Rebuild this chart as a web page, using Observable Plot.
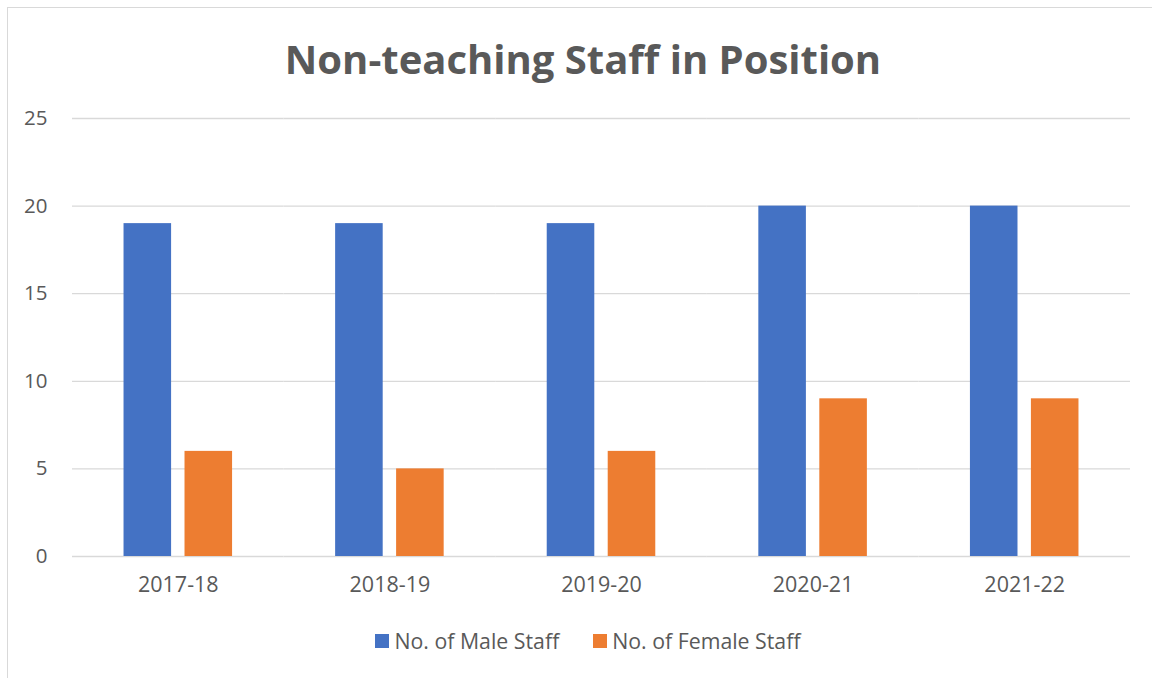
<!DOCTYPE html>
<html>
<head>
<meta charset="utf-8">
<script src="https://cdn.jsdelivr.net/npm/d3@7"></script>
<script src="https://cdn.jsdelivr.net/npm/@observablehq/plot@0.6"></script>
<style>
  html, body { margin: 0; padding: 0; background: #fff; width: 1152px; height: 678px; overflow: hidden; }
  #frame { position: absolute; left: 7px; top: 7px; width: 1160px; height: 700px; border: 1px solid #d9d9d9; box-sizing: border-box; }
  #title { position: absolute; left: 0; width: 1166px; top: 29px; text-align: center; font-family: "Open Sans", sans-serif; font-weight: 700; font-size: 40px; color: #595959; line-height: 60px; white-space: nowrap; }
  #chart { position: absolute; left: 0; top: 90px; }
  #legend { position: absolute; left: 12px; width: 1152px; top: 626px; display: flex; justify-content: center; gap: 34px; font-family: "Open Sans", sans-serif; font-size: 21.3px; color: #595959; line-height: 30px; }
  .item { display: flex; align-items: center; gap: 5px; }
  .sw { width: 14px; height: 14px; display: inline-block; }
</style>
</head>
<body>
<div id="frame"></div>
<div id="title">Non-teaching Staff in Position</div>
<div id="chart"></div>
<div id="legend"></div>
<script>
const years = ["2017-18", "2018-19", "2019-20", "2020-21", "2021-22"];
const seriesNames = ["No. of Male Staff", "No. of Female Staff"];
const maleStaff = [19, 19, 19, 20, 20];
const femaleStaff = [6, 5, 6, 9, 9];
const yTicks = [0, 5, 10, 15, 20, 25];
const colors = ["#4472c4", "#ed7d31"];

const data = [];
years.forEach((yr, i) => {
  data.push({year: yr, series: seriesNames[0], value: maleStaff[i]});
  data.push({year: yr, series: seriesNames[1], value: femaleStaff[i]});
});

const chart = Plot.plot({
  width: 1152,
  height: 520,
  marginTop: 28,
  marginBottom: 54,
  marginLeft: 72,
  marginRight: 22,
  style: {fontFamily: "Open Sans, sans-serif", fontSize: "18px", color: "#595959", background: "transparent"},
  fx: {domain: years, paddingInner: 0, paddingOuter: 0, round: false, label: null},
  x: {domain: seriesNames, paddingInner: 0.22, paddingOuter: 0.845, align: 0.5, round: false, axis: null},
  y: {domain: [0, 25], label: null},
  color: {domain: seriesNames, range: colors},
  marks: [
    Plot.ruleY(yTicks, {stroke: "#d9d9d9", strokeWidth: 1.3}),
    Plot.barY(data, {fx: "year", x: "series", y: "value", fill: "series"}),
    Plot.axisY({ticks: yTicks, tickSize: 0, tickPadding: 25, label: null, fill: "#595959", fontSize: 20.5}),
    Plot.axisFx({anchor: "bottom", tickSize: 0, tickPadding: 20, label: null, fill: "#595959", fontSize: 21.5})
  ]
});
document.getElementById("chart").appendChild(chart);

const legend = document.getElementById("legend");
seriesNames.forEach((s, i) => {
  const item = document.createElement("div");
  item.className = "item";
  const sw = document.createElement("span");
  sw.className = "sw";
  sw.style.background = colors[i];
  const t = document.createElement("span");
  t.textContent = s;
  item.appendChild(sw);
  item.appendChild(t);
  legend.appendChild(item);
});
</script>
</body>
</html>
